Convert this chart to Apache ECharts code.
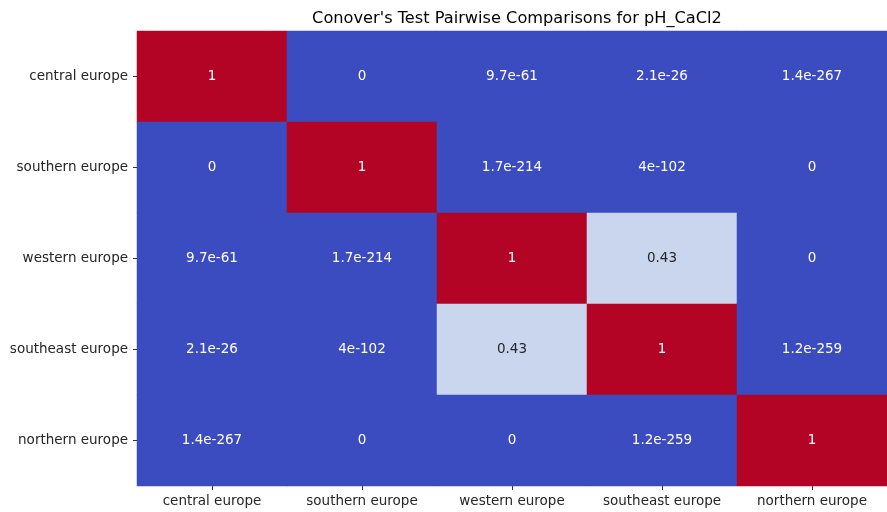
<!DOCTYPE html>
<html><head><meta charset="utf-8">
<script src="https://cdn.jsdelivr.net/npm/echarts@6/dist/echarts.min.js"></script>
<style>html,body{margin:0;padding:0;background:#fff}#c{width:887px;height:512px}</style>
</head><body><div id="c"></div>
<script>
const categories = ['central europe','southern europe','western europe','southeast europe','northern europe'];
const row0 = ['1','0','9.7e-61','2.1e-26','1.4e-267'];
const row1 = ['0','1','1.7e-214','4e-102','0'];
const row2 = ['9.7e-61','1.7e-214','1','0.43','0'];
const row3 = ['2.1e-26','4e-102','0.43','1','1.2e-259'];
const row4 = ['1.4e-267','0','0','1.2e-259','1'];
const rows = [row0,row1,row2,row3,row4];
const titleText = "Conover's Test Pairwise Comparisons for pH_CaCl2";
const coolwarm = ['#3b4cc0','#5977e3','#7b9ff9','#9ebeff','#c0d4f5','#dddcdc','#f2cbb7','#f7ac8e','#ee8468','#d65244','#b40426'];

const data = [];
rows.forEach((r, yi) => r.forEach((s, xi) => {
  const v = Number(s);
  data.push({
    value: [xi, yi, v],
    label: { color: (v > 0.25 && v < 0.75) ? '#262626' : '#ffffff', formatter: s }
  });
}));

const chart = echarts.init(document.getElementById('c'));
chart.setOption({
  animation: false,
  backgroundColor: '#ffffff',
  title: {
    text: titleText, left: 512, top: 6, textAlign: 'center',
    textStyle: { fontFamily: 'DejaVu Sans', fontSize: 16.2, fontWeight: 'normal', color: '#000' }
  },
  grid: { left: 137, right: 0, top: 31, bottom: 26 },
  xAxis: {
    type: 'category', data: categories,
    axisLine: { show: false },
    axisTick: { show: true, length: 4, alignWithLabel: true, lineStyle: { color: '#333' } },
    axisLabel: { interval: 0, margin: 8, fontFamily: 'DejaVu Sans', fontSize: 13.5, color: '#262626' },
    splitLine: { show: false }
  },
  yAxis: {
    type: 'category', data: categories, inverse: true,
    axisLine: { show: false },
    axisTick: { show: true, length: 4, alignWithLabel: true, lineStyle: { color: '#333' } },
    axisLabel: { interval: 0, margin: 9, fontFamily: 'DejaVu Sans', fontSize: 13.5, color: '#262626' },
    splitLine: { show: false }
  },
  visualMap: {
    show: false, min: 0, max: 1, dimension: 2, calculable: false,
    inRange: { color: coolwarm }
  },
  series: [{
    type: 'heatmap',
    data: data,
    label: { show: true, fontFamily: 'DejaVu Sans', fontSize: 13.5 },
    itemStyle: { borderWidth: 0 },
    emphasis: { disabled: true }
  }]
});
</script></body></html>
